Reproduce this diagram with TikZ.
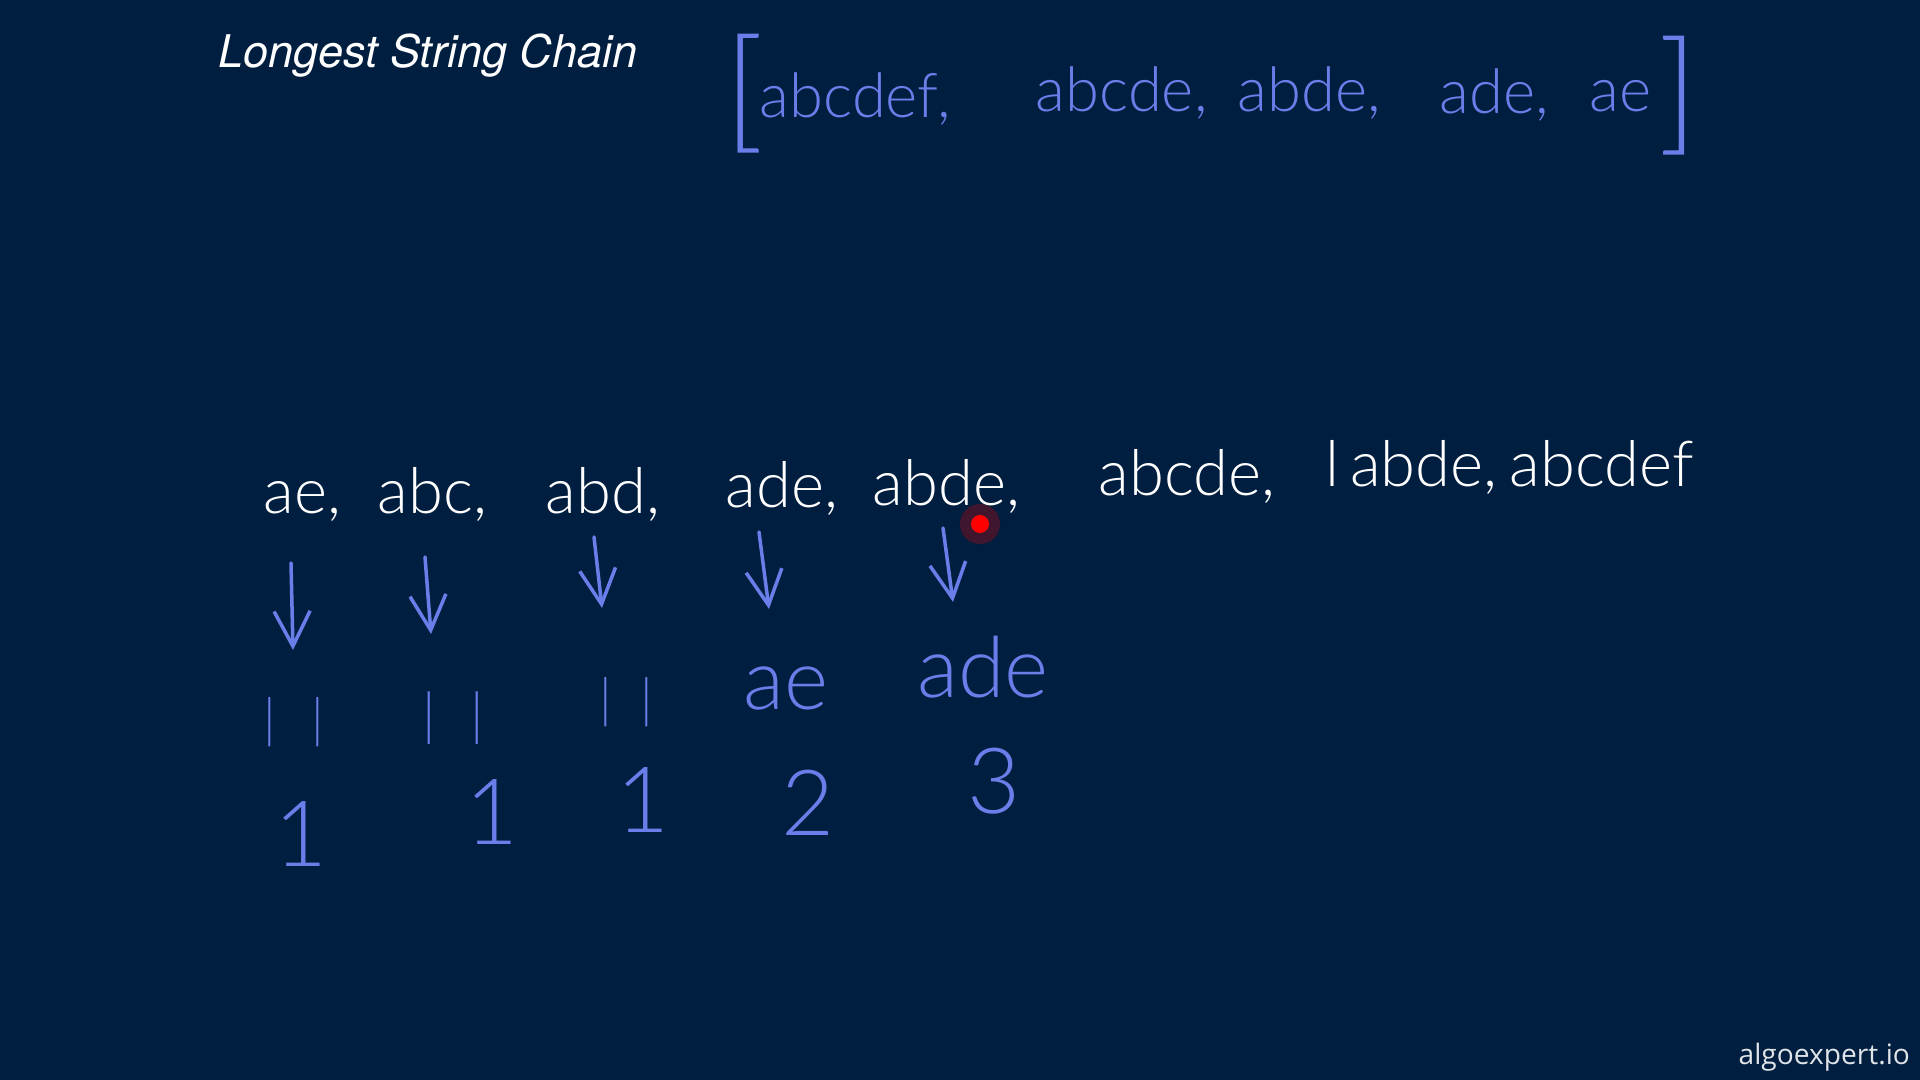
\documentclass[tikz,border=0pt]{standalone}
\usepackage{fontspec}
\setmainfont{Lato}[UprightFont={* Light}]
\newfontfamily\titlefont{TeX Gyre Heros}
\newfontfamily\wmfont{Open Sans}
\usetikzlibrary{arrows.meta}
\definecolor{boardbg}{HTML}{001E3F}
\definecolor{penblue}{HTML}{6A7EEA}
\newcommand{\fs}[1]{\fontsize{#1}{#1}\selectfont}

\begin{document}
\begin{tikzpicture}[x=0.01cm, y=-0.01cm, every node/.style={inner sep=0pt},
  chalk/.style={text=white, anchor=base west, font=\fs{18pt}},
  inkword/.style={text=penblue, anchor=base west, font=\fs{17.5pt}},
  inkmark/.style={text=penblue, anchor=base, font=\fs{24pt}},
  pointer/.style={penblue, line width=1pt, line cap=round, -{Straight Barb[length=3.5mm, width=3.6mm, line width=1pt]}}]
  % board
  \fill[boardbg] (0,0) rectangle (1920,1080);
  \useasboundingbox (0,0) rectangle (1920,1080);
  % title
  \node[text=white, anchor=base west, font=\titlefont\itshape\fs{12.8pt}] (title) at (218,68) {Longest String Chain};
  % input list
  \node[text=penblue, anchor=base west, font=\fs{38pt}] (lbr) at (724,136) {[};
  \node[inkword] (in1) at (759,118) {abcdef,};
  \node[inkword] (in2) at (1035,112) {abcde,};
  \node[inkword] (in3) at (1237,112) {abde,};
  \node[inkword] (in4) at (1439,114) {ade,};
  \node[inkword] (in5) at (1589,112) {ae};
  \node[text=penblue, anchor=base west, font=\fs{38pt}] (rbr) at (1658,138) {]};
  % sorted by length
  \node[chalk] (w1) at (263,514) {ae,};
  \node[chalk] (w2) at (377,514) {abc,};
  \node[chalk] (w3) at (545,514) {abd,};
  \node[chalk] (w4) at (725,508) {ade,};
  \node[chalk] (w5) at (872,506) {abde,};
  \node[chalk] (w6) at (1098,496) {abcde,};
  \node[chalk] (w7) at (1325,487) {l\,abde,};
  \node[chalk] (w8) at (1509,487) {abcdef};
  % red pointer
  \fill[red, opacity=0.25] (980,524) circle[radius=2mm];
  \fill[red] (980,524) circle[radius=0.9mm];
  % arrows down
  \coordinate (t1) at (291,563); \coordinate (h1) at (293,650);
  \coordinate (t2) at (425,557); \coordinate (h2) at (431,634);
  \coordinate (t3) at (594,537); \coordinate (h3) at (602,608);
  \coordinate (t4) at (759,532); \coordinate (h4) at (769,609);
  \coordinate (t5) at (943,528); \coordinate (h5) at (953,602);
  \draw[pointer] (t1) -- (h1);
  \draw[pointer] (t2) -- (h2);
  \draw[pointer] (t3) -- (h3);
  \draw[pointer] (t4) -- (h4);
  \draw[pointer] (t5) -- (h5);
  % predecessors
  \node[text=penblue, font=\fs{15pt}] (p1) at (294,722) {\textbar\hspace{10pt}\textbar};
  \node[text=penblue, font=\fs{16pt}] (p2) at (453,718) {\textbar\hspace{10pt}\textbar};
  \node[text=penblue, font=\fs{15pt}] (p3) at (626,702) {\textbar\hspace{8pt}\textbar};
  \node[inkmark] (p4) at (786,710) {ae};
  \node[inkmark] (p5) at (983,698) {ade};
  % chain lengths
  \node[inkmark, font=\fs{26pt}] (n1) at (301,867) {1};
  \node[inkmark, font=\fs{26pt}] (n2) at (492,845) {1};
  \node[inkmark, font=\fs{26pt}] (n3) at (643,833) {1};
  \node[inkmark, font=\fs{26pt}] (n4) at (808,836) {2};
  \node[inkmark, font=\fs{26pt}] (n5) at (994,814) {3};
  % watermark
  \node[text=white!88!boardbg, anchor=base west, font=\wmfont\fs{8pt}] (mark) at (1738,1065) {algoexpert.io};
\end{tikzpicture}
\end{document}
